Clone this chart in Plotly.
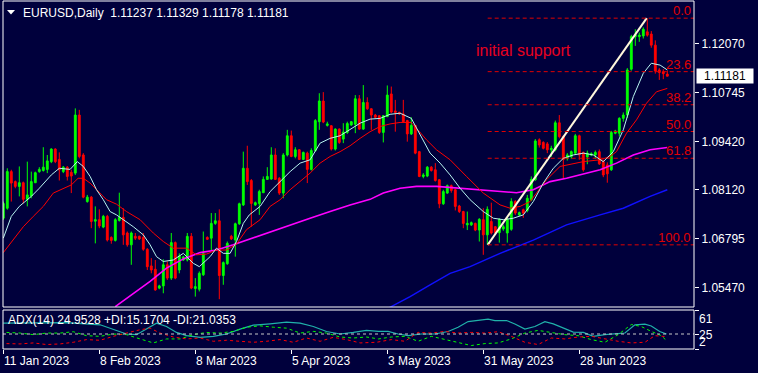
import plotly.graph_objects as go

# ---------------- data ----------------
bar_index = list(range(167))
open_ = [1.0734,1.0761,1.0860,1.0833,1.0820,1.0830,1.0785,1.0794,1.0830,1.0860,
         1.0863,1.0866,1.0887,1.0921,1.0893,1.0860,1.0872,1.0858,1.0856,1.1013,
         1.0905,1.0779,1.0791,1.0726,1.0730,1.0710,1.0739,1.0682,1.0674,1.0728,
         1.0736,1.0694,1.0662,1.0685,1.0685,1.0682,1.0650,1.0605,1.0596,1.0545,
         1.0551,1.0608,1.0572,1.0668,1.0594,1.0621,1.0621,1.0685,1.0544,1.0542,
         1.0581,1.0682,1.0680,1.0720,1.0727,1.0579,1.0611,1.0685,1.0675,1.0719,
         1.0770,1.0869,1.0836,1.0770,1.0774,1.0803,1.0839,1.0840,1.0905,1.0842,
         1.0802,1.0905,1.0957,1.0901,1.0919,1.0893,1.0910,1.0866,1.0917,1.0995,
         1.1051,1.0985,1.0984,1.0921,1.0975,1.0948,1.0966,1.0986,1.0988,1.1057,
         1.0975,1.1047,1.1030,1.1013,1.1011,1.0966,1.1009,1.1070,1.1024,1.1020,
         1.1016,1.0998,1.0962,1.0985,1.0914,1.0847,1.0848,1.0872,1.0865,1.0838,
         1.0773,1.0802,1.0822,1.0811,1.0767,1.0752,1.0716,1.0716,1.0720,1.0702,
         1.0730,1.0689,1.0725,1.0711,1.0695,1.0705,1.0694,1.0704,1.0779,1.0743,
         1.0757,1.0755,1.0784,1.0838,1.0946,1.0939,1.0935,1.0919,1.0919,1.0992,
         1.0955,1.0896,1.0901,1.0910,1.0957,1.0912,1.0900,1.0905,1.0905,1.0914,
         1.0887,1.0878,1.0865,1.0964,1.0964,1.1004,1.1013,1.1137,1.1225,1.1225,
         1.1227,1.1238,1.1232,1.1202,1.1135,1.1130,1.11237]
high = [1.0779,1.0869,1.0865,1.0836,1.0874,1.0833,1.0887,1.0860,1.0860,1.0872,
        1.0926,1.0905,1.0923,1.0923,1.0912,1.0875,1.0875,1.0865,1.1031,1.1027,
        1.0910,1.0797,1.0794,1.0766,1.0758,1.0743,1.0743,1.0685,1.0734,1.0803,
        1.0761,1.0698,1.0698,1.0694,1.0687,1.0694,1.0653,1.0626,1.0621,1.0554,
        1.0623,1.0617,1.0694,1.0671,1.0639,1.0632,1.0694,1.0694,1.0572,1.0590,
        1.0698,1.0685,1.0748,1.0748,1.0758,1.0617,1.0671,1.0689,1.0722,1.0776,
        1.0914,1.0930,1.0840,1.0779,1.0811,1.0847,1.0872,1.0926,1.0923,1.0845,
        1.0910,1.0973,1.0971,1.0926,1.0921,1.0914,1.0914,1.0923,1.1002,1.1072,
        1.1075,1.0995,1.0986,1.0977,1.0977,1.0991,1.0995,1.0997,1.1067,1.1067,
        1.1094,1.1061,1.1031,1.1016,1.1013,1.1013,1.1093,1.1090,1.1054,1.1022,
        1.1054,1.1000,1.1007,1.0986,1.0916,1.0856,1.0875,1.0875,1.0883,1.0840,
        1.0811,1.0825,1.0825,1.0813,1.0770,1.0754,1.0752,1.0725,1.0722,1.0734,
        1.0761,1.0766,1.0776,1.0713,1.0734,1.0716,1.0734,1.0788,1.0783,1.0752,
        1.0760,1.0797,1.0847,1.0948,1.0950,1.0942,1.0940,1.0930,1.0998,1.1013,
        1.0958,1.0910,1.0917,1.0962,1.0960,1.0914,1.0917,1.0912,1.0917,1.0920,
        1.0892,1.0885,1.0970,1.0973,1.1007,1.1020,1.1140,1.1230,1.1245,1.1236,
        1.1250,1.1274,1.1240,1.1215,1.1140,1.1137,1.11329]
low = [1.0730,1.0757,1.0779,1.0815,1.0793,1.0774,1.0766,1.0788,1.0829,1.0857,
       1.0860,1.0856,1.0883,1.0883,1.0836,1.0856,1.0836,1.0802,1.0851,1.0896,
       1.0788,1.0776,1.0707,1.0666,1.0707,1.0707,1.0671,1.0665,1.0671,1.0725,
       1.0662,1.0657,1.0608,1.0675,1.0675,1.0646,1.0594,1.0585,1.0538,1.0542,
       1.0531,1.0567,1.0567,1.0569,1.0585,1.0619,1.0617,1.0542,1.0522,1.0536,
       1.0578,1.0675,1.0648,1.0716,1.0515,1.0554,1.0608,1.0675,1.0630,1.0716,
       1.0767,1.0824,1.0711,1.0767,1.0743,1.0802,1.0838,1.0838,1.0838,1.0797,
       1.0788,1.0901,1.0899,1.0896,1.0892,1.0892,1.0829,1.0863,1.0914,1.0973,
       1.0991,1.0982,1.0917,1.0917,1.0935,1.0937,1.0962,1.0984,1.0964,1.0973,
       1.0973,1.1027,1.0973,1.1004,1.0962,1.0939,1.1007,1.1018,1.0968,1.1013,
       1.0993,1.0941,1.0959,1.0907,1.0845,1.0842,1.0845,1.0860,1.0833,1.0761,
       1.0770,1.0800,1.0803,1.0755,1.0748,1.0707,1.0702,1.0713,1.0699,1.0671,
       1.0635,1.0662,1.0690,1.0692,1.0668,1.0700,1.0668,1.0700,1.0743,1.0740,
       1.0735,1.0750,1.0780,1.0835,1.0925,1.0920,1.0910,1.0900,1.0915,1.0950,
       1.0842,1.0890,1.0895,1.0905,1.0892,1.0860,1.0880,1.0902,1.0895,1.0878,
       1.0845,1.0830,1.0862,1.0961,1.0955,1.0995,1.1005,1.1133,1.1200,1.1211,
       1.1220,1.1225,1.1195,1.1125,1.1108,1.1110,1.11178]
close = [1.0774,1.0860,1.0829,1.0820,1.0830,1.0785,1.0797,1.0833,1.0857,1.0866,
         1.0872,1.0889,1.0921,1.0887,1.0865,1.0872,1.0847,1.0848,1.1013,1.0901,
         1.0791,1.0791,1.0725,1.0730,1.0713,1.0739,1.0675,1.0674,1.0730,1.0736,
         1.0689,1.0662,1.0694,1.0680,1.0678,1.0650,1.0603,1.0594,1.0540,1.0551,
         1.0608,1.0572,1.0668,1.0572,1.0632,1.0629,1.0685,1.0545,1.0549,1.0585,
         1.0638,1.0677,1.0720,1.0727,1.0579,1.0614,1.0666,1.0678,1.0719,1.0773,
         1.0869,1.0833,1.0774,1.0776,1.0806,1.0839,1.0847,1.0905,1.0839,1.0802,
         1.0905,1.0957,1.0901,1.0919,1.0893,1.0912,1.0866,1.0917,1.0998,1.1051,
         1.0994,1.0989,1.0921,1.0975,1.0939,1.0967,1.0990,1.0995,1.1057,1.0975,
         1.1047,1.1030,1.1013,1.1007,1.0966,1.1011,1.1067,1.1021,1.1020,1.1016,
         1.0995,1.0962,1.0985,1.0910,1.0847,1.0851,1.0872,1.0863,1.0836,1.0773,
         1.0806,1.0822,1.0809,1.0766,1.0752,1.0720,1.0720,1.0722,1.0702,1.0731,
         1.0689,1.0758,1.0694,1.0695,1.0731,1.0711,1.0731,1.0779,1.0748,1.0749,
         1.0748,1.0788,1.0839,1.0943,1.0932,1.0923,1.0919,1.0923,1.0992,1.0955,
         1.0893,1.0905,1.0914,1.0957,1.0905,1.0865,1.0910,1.0908,1.0912,1.0881,
         1.0851,1.0854,1.0966,1.0970,1.1004,1.1013,1.1135,1.1225,1.1230,1.1229,
         1.1245,1.1229,1.1202,1.1132,1.1128,1.1125,1.11181]

# moving averages (bar position, price)
fast_ma_x = [0,2,4,7,9,12,14,16.7,18.5,20,21.7,23.3,25,26.7,28.3,30,32.5,35,36.7,38.3,40,42.5,45,47.5,49,
             51.7,53.3,55,56.7,58.3,60,61.5,64.2,66.7,69.2,71.7,74.2,76.7,79.2,81.7,84.2,86.7,89.2,91.7,
             94.2,96.7,99.2,102,104.2,106.7,109.2,111.7,114.2,116.7,120,122.5,125,127.5,130,132.5,135,
             137.5,140,142.5,145,147.5,150,152.5,155,157.5,160,162,164.2,166]
fast_ma = [1.0680,1.0739,1.0766,1.0793,1.0815,1.0851,1.0869,1.0866,1.0887,1.0874,1.0847,1.0811,1.0784,
           1.0752,1.0743,1.0730,1.0711,1.0689,1.0662,1.0630,1.0617,1.0621,1.0639,1.0612,1.0603,1.0630,
           1.0653,1.0639,1.0639,1.0671,1.0720,1.0743,1.0766,1.0806,1.0833,1.0860,1.0883,1.0892,1.0937,
           1.0950,1.0957,1.0973,1.0991,1.1002,1.1004,1.1015,1.1018,1.1004,1.0959,1.0910,1.0883,1.0851,
           1.0815,1.0784,1.0752,1.0734,1.0730,1.0734,1.0743,1.0779,1.0829,1.0869,1.0896,1.0905,1.0910,
           1.0905,1.0887,1.0914,1.0973,1.1063,1.1126,1.1153,1.1148,1.1135]
mid_ma_x = [0,2.5,5,7.5,10,12.5,15,17,18.7,20,21.7,23.3,25.8,28.3,30.8,34.2,37.5,40,42.5,45.8,48.3,50.8,
            53.3,55.8,58.3,60.8,64.2,66.7,69.2,71.7,74.2,76.7,79.2,81.7,84.2,86.7,89.2,91.7,94.2,96.7,
            99.2,102,103.3,105.8,108.3,111.7,115.8,120,124.2,126.7,129.2,131.7,133.3,135.8,139.2,145,
            149.2,151.7,153.3,155.8,158.3,160.8,163.3,166]
mid_ma = [1.0641,1.0675,1.0711,1.0739,1.0766,1.0802,1.0815,1.0824,1.0842,1.0842,1.0829,1.0811,1.0784,
          1.0772,1.0752,1.0730,1.0694,1.0671,1.0653,1.0653,1.0635,1.0637,1.0648,1.0648,1.0664,1.0703,
          1.0730,1.0766,1.0784,1.0811,1.0833,1.0856,1.0883,1.0901,1.0914,1.0930,1.0950,1.0968,1.0982,
          1.0989,1.0993,1.0993,1.0977,1.0946,1.0919,1.0892,1.0847,1.0802,1.0770,1.0761,1.0766,1.0779,
          1.0802,1.0838,1.0874,1.0887,1.0892,1.0901,1.0914,1.0964,1.1000,1.1045,1.1076,1.1085]
slow_ma_x = [28,32.5,36.7,40.8,45,49.2,53.3,57.5,61.5,66.7,71.7,76.7,81.7,86.7,91.7,95,99.2,103.3,108.3,
             114.2,120,128.3,132.5,136.7,140.8,145,149.2,153.3,157.5,161.7,166]
slow_ma = [1.0495,1.0531,1.0563,1.0599,1.0624,1.0641,1.0648,1.0662,1.0677,1.0698,1.0716,1.0734,1.0752,
           1.0770,1.0785,1.0802,1.0815,1.0820,1.0820,1.0815,1.0811,1.0803,1.0811,1.0833,1.0842,1.0854,
           1.0865,1.0883,1.0905,1.0919,1.0925]
long_ma_x = [96.3,101.7,106.7,111.7,116.7,121.7,124.2,132.5,140.8,149.2,155,161.7,166]
long_ma = [1.0491,1.0522,1.0554,1.0585,1.0603,1.0626,1.0639,1.0675,1.0716,1.0743,1.0761,1.0793,1.0811]

# ADX(14) panel
adx_x = [0,7.5,15.8,24.2,27.5,30.8,33.3,35.8,38.3,40.8,43.3,45.8,49.2,52.5,55.8,59.2,62.5,66.7,70.8,74.2,
         77.5,80.8,84.2,87.5,90.8,93.8,96.2,98.7,101.2,104.5,107.9,111.2,113.7,116.2,119.5,121.2,122.9,
         125.8,127.9,130.4,132.9,135.4,137.5,140,142.5,145,147.5,150.4,152.9,155.4,157.9,160.4,162,164.1,165.8]
adx_v = [41.3,41.3,42.2,38.8,31.4,25.0,24.0,32.4,41.3,36.2,27.4,22.5,20.0,21.4,25.0,32.4,38.3,40.3,42.7,41.3,
         36.2,28.8,25.0,27.4,30.3,28.8,28.8,25.0,22.5,25.0,25.0,28.8,35.2,43.6,46.2,47.2,45.2,45.2,40.1,
         32.4,36.2,43.6,40.1,33.9,27.9,27.4,21.4,24.0,25.0,26.5,38.8,39.7,37.1,28.8,24.95]
pdi_x = [0.8,4.2,7.5,10.8,14.2,17.5,20.8,24.2,27.5,30.8,34.2,37.5,40.8,44.2,47.5,50.8,54.2,57.5,60.8,64.2,
         67.5,70.8,74.2,77.5,80.8,84.2,87.5,90.8,93.8,97,100.4,103.7,107,110.4,113.7,117,120.4,123.7,127,
         130.4,133.7,137,140.4,143.7,147,150.4,153.7,157,159.5,162,164.5,165.8]
pdi_v = [27.4,26.4,24.0,26.4,26.4,28.4,22.5,21.5,25.0,24.0,17.6,11.6,17.6,17.6,24.0,27.4,26.4,28.9,35.2,37.2,
         35.2,33.8,26.4,28.9,26.4,20.5,19.0,20.5,17.6,20.5,21.5,14.1,21.5,16.6,11.6,7.7,10.6,11.6,17.6,
         26.4,30.4,27.4,24.0,22.5,16.6,12.6,24.0,39.2,36.2,28.9,22.5,15.17]
mdi_x = [0.8,4.2,7.5,10.8,14.2,17.5,20.8,24.2,27.5,30.8,34.2,36.7,39.2,42.5,45.8,49.2,52.5,55.8,59.2,62.5,
         65.8,69.2,72.5,75.8,79.2,82.5,85.8,89.2,93.3,97,100.4,103.7,107,110.4,113.7,117,120.4,123.7,127,
         130.4,133.7,137,140.4,143.7,147,150.4,153.7,157,160.4,162.9,165.8]
mdi_v = [10.6,10.1,11.6,9.2,10.1,12.6,16.6,15.6,21.5,26.4,31.4,33.8,26.4,20.5,17.6,19.0,14.1,15.6,14.1,12.6,
         14.1,16.6,12.6,19.0,14.1,20.0,16.6,11.6,12.6,16.6,14.1,27.4,26.4,28.9,26.4,27.4,26.4,28.4,21.5,
         12.6,9.2,19.0,17.6,20.5,21.5,17.6,14.1,11.6,12.6,22.5,21.04]
adx_level = 25

# Fibonacci retracement and trend line
fib_levels = [0.0, 23.6, 38.2, 50.0, 61.8, 100.0]
fib_high = 1.1275
fib_low = 1.0662
fib_start = 121.1
trend_x = [121.1, 160.85]
trend_y = [1.0662, 1.1275]

price_ticks = [1.12070, 1.10745, 1.09420, 1.08120, 1.06795, 1.05470]
price_tick_text = ["1.12070", "1.10745", "1.09420", "1.08120", "1.06795", "1.05470"]
date_ticks = [0, 24, 48, 72, 96, 120, 144]
date_labels = ["11 Jan 2023", "8 Feb 2023", "8 Mar 2023", "5 Apr 2023",
               "3 May 2023", "31 May 2023", "28 Jun 2023"]
title_text = "EURUSD,Daily\u00a0\u00a01.11237 1.11329 1.11178 1.11181"
adx_text = "ADX(14) 24.9528 +DI:15.1704 -DI:21.0353"
last_price = 1.11181

# ---------------- layout geometry ----------------
W, H = 758, 373
ML, MR, MT, MB = 3, 64, 1, 24
PW = W - ML - MR
PH = H - MT - MB


def px_x(x):
    return (x - ML) / PW


def px_y(y):
    return (H - MB - y) / PH


BG = "#00003C"
FONT = "Liberation Sans, Arial, sans-serif"
XR = [-0.075, -0.075 + PW / 4.0]
FIB_RED = "#E00000"

fig = go.Figure()

fig.add_trace(go.Candlestick(
    x=bar_index, open=open_, high=high, low=low, close=close,
    increasing=dict(line=dict(color="#00FF00", width=1), fillcolor="#00FF00"),
    decreasing=dict(line=dict(color="#FF0000", width=1), fillcolor="#FF0000"),
    whiskerwidth=0, hoverinfo="skip", xaxis="x", yaxis="y"))

fig.add_trace(go.Scatter(x=slow_ma_x, y=slow_ma, mode="lines",
                         line=dict(color="#FF00FF", width=1.6), hoverinfo="skip"))
fig.add_trace(go.Scatter(x=long_ma_x, y=long_ma, mode="lines",
                         line=dict(color="#1010FF", width=1.4), hoverinfo="skip"))
fig.add_trace(go.Scatter(x=mid_ma_x, y=mid_ma, mode="lines",
                         line=dict(color="#FF0000", width=1), hoverinfo="skip"))
fig.add_trace(go.Scatter(x=fast_ma_x, y=fast_ma, mode="lines",
                         line=dict(color="#B8F4F0", width=1), hoverinfo="skip"))
fig.add_trace(go.Scatter(x=trend_x, y=trend_y, mode="lines",
                         line=dict(color="#FFF8DC", width=2), hoverinfo="skip"))

# ADX panel
fig.add_trace(go.Scatter(x=adx_x, y=adx_v, mode="lines", yaxis="y2",
                         line=dict(color="#20B2AA", width=1.2), hoverinfo="skip"))
fig.add_trace(go.Scatter(x=pdi_x, y=pdi_v, mode="lines", yaxis="y2",
                         line=dict(color="#00FF00", width=1, dash="3px,3px"), hoverinfo="skip"))
fig.add_trace(go.Scatter(x=mdi_x, y=mdi_v, mode="lines", yaxis="y2",
                         line=dict(color="#FF0000", width=1, dash="3px,3px"), hoverinfo="skip"))

shapes = []
annotations = []

fib_range = fib_high - fib_low
for lv in fib_levels:
    price = fib_high - fib_range * lv / 100.0
    shapes.append(dict(type="line", xref="x", yref="y", x0=fib_start, x1=XR[1],
                       y0=price, y1=price, line=dict(color=FIB_RED, width=1, dash="4px,3px")))
    annotations.append(dict(xref="paper", yref="y", x=1, y=price, xanchor="right", yanchor="bottom",
                            xshift=-1, yshift=-2, text=f"{lv:.1f}", showarrow=False,
                            font=dict(family=FONT, size=13, color=FIB_RED)))

# ADX level
shapes.append(dict(type="line", xref="paper", yref="y2", x0=0, x1=1, y0=adx_level, y1=adx_level,
                   line=dict(color="#C8C8C8", width=1, dash="3px,3px")))

# panel borders
main_bottom = px_y(307)
sub_top = px_y(310)
shapes.append(dict(type="rect", xref="paper", yref="paper", x0=0, x1=1, y0=main_bottom, y1=px_y(1),
                   line=dict(color="white", width=1)))
shapes.append(dict(type="rect", xref="paper", yref="paper", x0=0, x1=1, y0=0, y1=sub_top,
                   line=dict(color="white", width=1)))

# little triangle in the title
shapes.append(dict(type="path", xref="paper", yref="paper",
                   path=f"M {px_x(7)},{px_y(10)} L {px_x(15)},{px_y(10)} L {px_x(11)},{px_y(14.5)} Z",
                   fillcolor="white", line=dict(color="white", width=0)))

annotations.append(dict(xref="paper", yref="paper", x=px_x(20.5), y=px_y(12.5), xanchor="left",
                        yanchor="middle", text=title_text, showarrow=False,
                        font=dict(family=FONT, size=12, color="white")))
annotations.append(dict(xref="paper", yref="paper", x=px_x(474), y=px_y(50.5), xanchor="left",
                        yanchor="middle", text="initial support", showarrow=False,
                        font=dict(family=FONT, size=16, color="#E6001E")))
annotations.append(dict(xref="paper", yref="paper", x=px_x(6), y=px_y(320), xanchor="left",
                        yanchor="middle", text=adx_text, showarrow=False,
                        font=dict(family=FONT, size=12, color="white")))

# current price box
annotations.append(dict(xref="paper", yref="y", x=1, y=last_price, xanchor="left", yanchor="middle",
                        xshift=1.5, text=f"{last_price:.5f}", showarrow=False, bgcolor="white",
                        width=54, height=12, borderpad=1, align="center",
                        font=dict(family=FONT, size=12, color="black")))

# ADX panel scale labels
for txt, yy in [("61", 318.7), ("25", 334.5), ("2", 342.0)]:
    annotations.append(dict(xref="paper", yref="paper", x=px_x(697), y=px_y(yy), xanchor="left",
                            yanchor="middle", text=txt, showarrow=False,
                            font=dict(family=FONT, size=12, color="white")))

# date labels to the right of their ticks
for pos, lab in zip(date_ticks, date_labels):
    annotations.append(dict(xref="x", yref="paper", x=pos, y=px_y(360.7), xanchor="left",
                            yanchor="middle", xshift=-1, text=lab, showarrow=False,
                            font=dict(family=FONT, size=12, color="white")))

fig.update_layout(
    width=W, height=H,
    margin=dict(l=ML, r=MR, t=MT, b=MB, pad=0),
    paper_bgcolor=BG, plot_bgcolor=BG,
    showlegend=False, hovermode=False, boxgap=0.35,
    font=dict(family=FONT, size=12, color="white"),
    xaxis=dict(range=XR, domain=[0, 1], anchor="y2", showgrid=False, zeroline=False,
               showline=False, ticks="outside", ticklen=4, tickcolor="white",
               tickvals=date_ticks, showticklabels=False, rangeslider=dict(visible=False),
               fixedrange=True),
    yaxis=dict(range=[1.04939, 1.13214], domain=[main_bottom, 1], anchor="x", side="right",
               showgrid=False, zeroline=False, showline=False, ticks="outside", ticklen=4,
               tickcolor="white", tickvals=price_ticks, ticktext=price_tick_text,
               tickfont=dict(family=FONT, size=12, color="white"), fixedrange=True),
    yaxis2=dict(range=[2.5, 61], domain=[0, sub_top], anchor="x", side="right",
                showgrid=False, zeroline=False, showline=False, ticks="outside", ticklen=4,
                tickcolor="white", tickvals=[61, 25, 2.5], showticklabels=False, fixedrange=True),
    shapes=shapes, annotations=annotations,
)

fig.write_html("out.html",
               config={"displayModeBar": False, "staticPlot": True},
               post_script="document.body.style.margin='0';document.body.style.padding='0';"
                           "document.body.style.background='" + BG + "';")
